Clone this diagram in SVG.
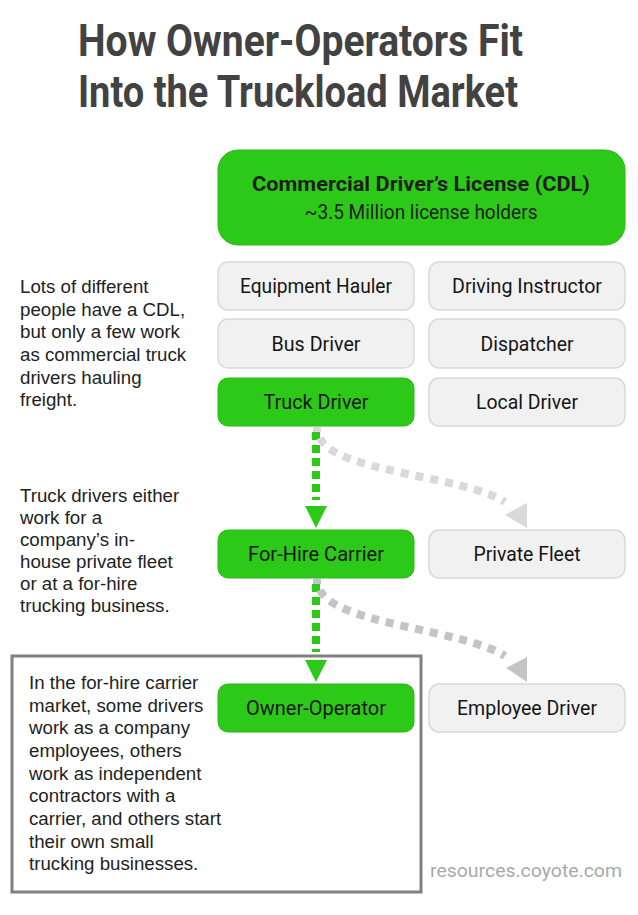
<svg xmlns="http://www.w3.org/2000/svg" width="638" height="915" viewBox="0 0 638 915">
<style>
.title{font-family:Roboto,"Liberation Sans",sans-serif;font-weight:700;font-size:45px;fill:#424242}
.lbl{font-family:Roboto,"Liberation Sans",sans-serif;font-size:21px;fill:#151515;text-anchor:middle}
.para{font-family:"Liberation Sans",Arial,sans-serif;font-size:18.7px;fill:#222}
.grey rect{fill:#f1f1f1;stroke:#d9d9d9;stroke-width:1.5}
.green rect{fill:#2dc918;stroke:#29b817;stroke-width:1}
.gline{fill:none;stroke:#2dc918;stroke-width:8;stroke-dasharray:8 5}
</style>
<rect width="638" height="915" fill="#fff"/>
<g id="title">
<text class="title" x="78" y="56" textLength="445" lengthAdjust="spacingAndGlyphs">How Owner-Operators Fit</text>
<text class="title" x="78" y="107" textLength="440" lengthAdjust="spacingAndGlyphs">Into the Truckload Market</text>
</g>
<g id="cdl" class="green">
<rect x="218" y="150" width="407" height="95" rx="20"/>
<text class="lbl" x="421" y="191" font-weight="700" textLength="338" lengthAdjust="spacingAndGlyphs" style="fill:#1e1e1e">Commercial Driver’s License (CDL)</text>
<text class="lbl" x="421" y="219" textLength="233" lengthAdjust="spacingAndGlyphs" style="fill:#1e1e1e">~3.5 Million license holders</text>
</g>
<g id="equipment-hauler" class="grey"><rect x="218" y="262" width="196" height="48" rx="10"/><text class="lbl" x="316" y="293" textLength="152" lengthAdjust="spacingAndGlyphs">Equipment Hauler</text></g>
<g id="driving-instructor" class="grey"><rect x="429" y="262" width="196" height="48" rx="10"/><text class="lbl" x="527" y="293" textLength="150" lengthAdjust="spacingAndGlyphs">Driving Instructor</text></g>
<g id="bus-driver" class="grey"><rect x="218" y="319" width="196" height="49" rx="10"/><text class="lbl" x="316" y="351" textLength="89" lengthAdjust="spacingAndGlyphs">Bus Driver</text></g>
<g id="dispatcher" class="grey"><rect x="429" y="319" width="196" height="49" rx="10"/><text class="lbl" x="527" y="351" textLength="93" lengthAdjust="spacingAndGlyphs">Dispatcher</text></g>
<g id="truck-driver" class="green"><rect x="218" y="378" width="196" height="48" rx="10"/><text class="lbl" x="316" y="409" textLength="105" lengthAdjust="spacingAndGlyphs">Truck Driver</text></g>
<g id="local-driver" class="grey"><rect x="429" y="378" width="196" height="48" rx="10"/><text class="lbl" x="527" y="409" textLength="102" lengthAdjust="spacingAndGlyphs">Local Driver</text></g>
<g id="for-hire-carrier" class="green"><rect x="218" y="530" width="196" height="48" rx="10"/><text class="lbl" x="316" y="561" textLength="136" lengthAdjust="spacingAndGlyphs">For-Hire Carrier</text></g>
<g id="private-fleet" class="grey"><rect x="429" y="530" width="196" height="48" rx="10"/><text class="lbl" x="527" y="561" textLength="107" lengthAdjust="spacingAndGlyphs">Private Fleet</text></g>
<g id="owner-operator" class="green"><rect x="218" y="684" width="196" height="48" rx="10"/><text class="lbl" x="316" y="715" textLength="140" lengthAdjust="spacingAndGlyphs">Owner-Operator</text></g>
<g id="employee-driver" class="grey"><rect x="429" y="684" width="196" height="48" rx="10"/><text class="lbl" x="527" y="715" textLength="140" lengthAdjust="spacingAndGlyphs">Employee Driver</text></g>
<g id="connectors">
<path class="gline" d="M316 432 V500"/>
<polygon points="305,506 327,506 316,528" fill="#2dc918"/>
<path d="M317 427 v5" stroke="#d9d9d9" stroke-width="8"/>
<path d="M320 438 C335 472 465 476 505 502" fill="none" stroke="#d9d9d9" stroke-width="8" stroke-dasharray="8 7"/>
<polygon points="527,503 527,528 505,515" fill="#d9d9d9"/>
<path class="gline" d="M316 584 V652"/>
<polygon points="305,660 327,660 316,682" fill="#2dc918"/>
<path d="M317 579 v5" stroke="#c4c4c4" stroke-width="8"/>
<path d="M320 590 C335 624 465 630 505 656" fill="none" stroke="#c4c4c4" stroke-width="8" stroke-dasharray="8 7"/>
<polygon points="527,657 527,682 506,668" fill="#c4c4c4"/>
</g>
<g id="note-1">
<text class="para" x="20" y="293">Lots of different</text>
<text class="para" x="20" y="316">people have a CDL,</text>
<text class="para" x="20" y="338">but only a few work</text>
<text class="para" x="20" y="361">as commercial truck</text>
<text class="para" x="20" y="384">drivers hauling</text>
<text class="para" x="20" y="406">freight.</text>
</g>
<g id="note-2">
<text class="para" x="20" y="502">Truck drivers either</text>
<text class="para" x="20" y="524">work for a</text>
<text class="para" x="20" y="546">company’s in-</text>
<text class="para" x="20" y="568">house private fleet</text>
<text class="para" x="20" y="590">or at a for-hire</text>
<text class="para" x="20" y="612">trucking business.</text>
</g>
<g id="note-3">
<rect x="12" y="656" width="409" height="236" fill="none" stroke="#808080" stroke-width="3"/>
<text class="para" x="29" y="689">In the for-hire carrier</text>
<text class="para" x="29" y="712">market, some drivers</text>
<text class="para" x="29" y="734">work as a company</text>
<text class="para" x="29" y="757">employees, others</text>
<text class="para" x="29" y="780">work as independent</text>
<text class="para" x="29" y="802">contractors with a</text>
<text class="para" x="29" y="825">carrier, and others start</text>
<text class="para" x="29" y="848">their own small</text>
<text class="para" x="29" y="870">trucking businesses.</text>
</g>
<text x="430" y="877" font-family="Roboto,'Liberation Sans',sans-serif" font-size="19" fill="#a9a9a9" textLength="192" lengthAdjust="spacingAndGlyphs">resources.coyote.com</text>
</svg>
